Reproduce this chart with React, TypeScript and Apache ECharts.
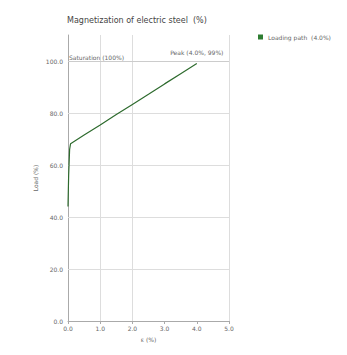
import React, { useEffect, useRef } from "react";
import * as echarts from "echarts";

const titleText = "Magnetization of electric steel  (%)";
const seriesName = "Loading path  (4.0%)";
const strainValues = [0, 0.02, 0.05, 0.08, 0.5, 1.0, 1.5, 2.0, 2.5, 3.0, 3.5, 4.0];
const loadValues = [44, 56, 66, 68.2, 71.5, 75.4, 79.4, 83.3, 87.2, 91.2, 95.1, 99];
const xTicks = [0, 1, 2, 3, 4, 5];
const yTicks = [0, 20, 40, 60, 80, 100];
const xGridLines = [1, 2, 5];
const yGridLines = [20, 40, 60, 80];
const saturationLevel = 100;
const saturationLabel = "Saturation (100%)";
const peakLabel = "Peak (4.0%, 99%)";

export default function App() {
  const ref = useRef<HTMLDivElement>(null);
  useEffect(() => {
    if (!ref.current) return;
    const chart = echarts.init(ref.current, null, { renderer: "svg" });
    const data = strainValues.map((x, i) => [x, loadValues[i]]);
    const font = "DejaVu Sans";
    chart.setOption({
      animation: false,
      textStyle: { fontFamily: font },
      title: {
        text: titleText,
        left: 54,
        top: 3,
        textStyle: { fontSize: 8, fontWeight: "normal", color: "#444", fontFamily: font },
      },
      legend: {
        left: 245,
        top: 21,
        icon: "rect",
        itemWidth: 5,
        itemHeight: 5,
        itemGap: 4,
        textStyle: { fontSize: 6, color: "#666", fontFamily: font },
        data: [seriesName],
      },
      grid: { left: 60, right: 110, top: 27, bottom: 17, containLabel: false },
      xAxis: {
        type: "value",
        min: xTicks[0],
        max: xTicks[xTicks.length - 1],
        interval: 1,
        name: "ε (%)",
        nameLocation: "middle",
        nameGap: 15,
        nameTextStyle: { fontSize: 6, color: "#666" },
        axisLine: { lineStyle: { color: "#aaa" } },
        axisTick: { show: true, length: 3, lineStyle: { color: "#aaa" } },
        axisLabel: { fontSize: 6, color: "#666", margin: 4, formatter: (v: number) => v.toFixed(1) },
        splitLine: { show: false },
      },
      yAxis: {
        type: "value",
        min: yTicks[0],
        max: 110,
        interval: 20,
        name: "Load (%)",
        nameLocation: "middle",
        nameGap: 30,
        nameTextStyle: { fontSize: 6, color: "#666" },
        axisLine: { show: true, lineStyle: { color: "#aaa" } },
        axisTick: { show: false },
        axisLabel: { fontSize: 6, color: "#666", margin: 5, showMaxLabel: false, formatter: (v: number) => v.toFixed(1) },
        splitLine: { show: false },
      },
      series: [
        {
          name: "grid",
          type: "line",
          data: [],
          z: 1,
          markLine: {
            silent: true,
            symbol: "none",
            lineStyle: { color: "#ddd", type: "solid", width: 1 },
            label: { show: false },
            data: [
              ...xGridLines.map((v) => ({ xAxis: v })),
              ...yGridLines.map((v) => ({ yAxis: v })),
              {
                yAxis: saturationLevel,
                lineStyle: { color: "#ccc", width: 1 },
                label: {
                  show: true,
                  position: "insideStartTop",
                  formatter: saturationLabel,
                  fontSize: 6,
                  color: "#666",
                  distance: 1,
                },
              },
            ],
          },
        },
        {
          name: seriesName,
          type: "line",
          data,
          z: 5,
          showSymbol: false,
          symbol: "none",
          lineStyle: { color: "#2e6b2e", width: 1.2 },
          itemStyle: { color: "#2e7d32" },
          markPoint: {
            symbol: "circle",
            symbolSize: 0,
            data: [
              {
                coord: data[data.length - 1],
                label: {
                  show: true,
                  formatter: peakLabel,
                  position: "top",
                  distance: 8,
                  fontSize: 6,
                  color: "#666",
                },
              },
            ],
          },
        },
      ],
    });
    return () => chart.dispose();
  }, []);
  return <div ref={ref} style={{ width: 331, height: 339 }} />;
}
